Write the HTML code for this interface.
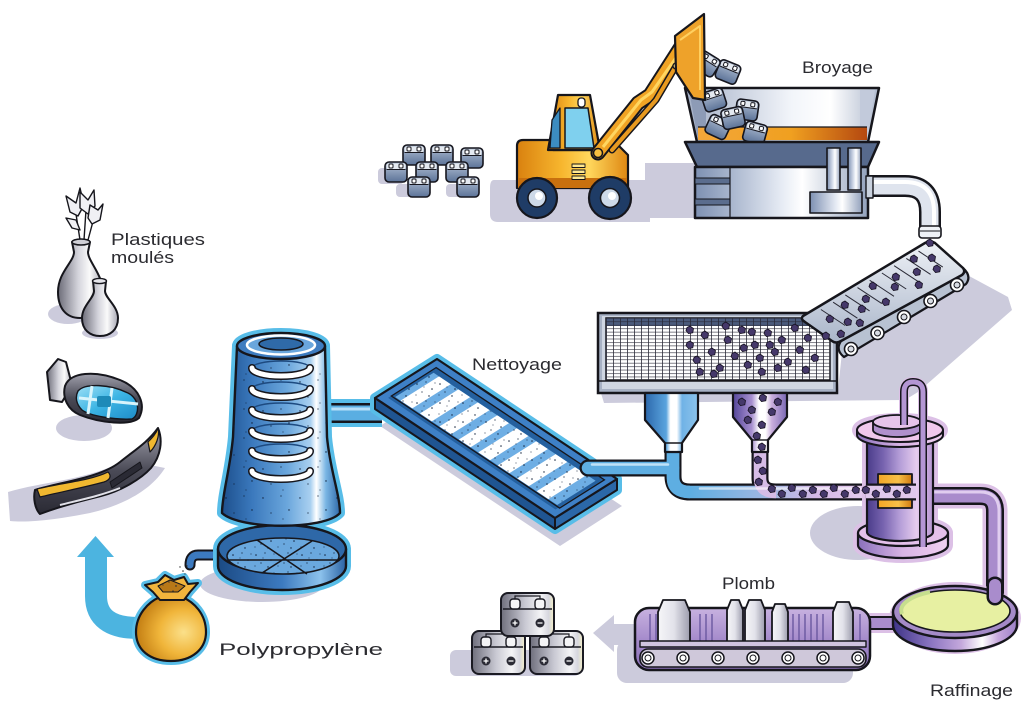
<!DOCTYPE html>
<html><head><meta charset="utf-8"><title>Recyclage</title>
<style>
html,body{margin:0;padding:0;background:#fff;width:1024px;height:709px;overflow:hidden}
svg{display:block}
.lbl{font-family:"Liberation Sans",sans-serif;font-size:17px;fill:#2b2b30}
</style></head><body>
<svg xmlns="http://www.w3.org/2000/svg" xmlns:xlink="http://www.w3.org/1999/xlink" width="1024" height="709" viewBox="0 0 1024 709">
<defs>
<linearGradient id="gY" x1="0" y1="0" x2="1" y2="0"><stop offset="0" stop-color="#d9810f"/><stop offset=".4" stop-color="#f7b62e"/><stop offset=".65" stop-color="#ffd75c"/><stop offset="1" stop-color="#de8712"/></linearGradient>
<linearGradient id="gHop" x1="0" y1="0" x2="1" y2="0"><stop offset="0" stop-color="#a3afc6"/><stop offset=".55" stop-color="#f2f5fa"/><stop offset=".75" stop-color="#ffffff"/><stop offset="1" stop-color="#aeb9cd"/></linearGradient>
<linearGradient id="gSteel" x1="0" y1="0" x2="1" y2="0"><stop offset="0" stop-color="#7d90b2"/><stop offset=".5" stop-color="#e6ebf4"/><stop offset=".62" stop-color="#ffffff"/><stop offset="1" stop-color="#93a2bd"/></linearGradient>
<linearGradient id="gOr" x1="0" x2="1"><stop offset="0" stop-color="#f3a63a"/><stop offset=".55" stop-color="#f0a020"/><stop offset="1" stop-color="#b44810"/></linearGradient>
<linearGradient id="gBelt" x1="0" y1="0" x2="0" y2="1"><stop offset="0" stop-color="#eef1f6"/><stop offset="1" stop-color="#aab6ca"/></linearGradient>
<linearGradient id="gCyc" gradientUnits="userSpaceOnUse" x1="222" y1="0" x2="340" y2="0"><stop offset="0" stop-color="#1d4f8c"/><stop offset=".25" stop-color="#3a78bc"/><stop offset=".55" stop-color="#6aa6dc"/><stop offset=".75" stop-color="#a9d0f0"/><stop offset=".8" stop-color="#ffffff"/><stop offset=".88" stop-color="#7ab6e4"/><stop offset="1" stop-color="#2e68aa"/></linearGradient>
<linearGradient id="gBase" x1="0" x2="1"><stop offset="0" stop-color="#1b4a84"/><stop offset=".5" stop-color="#3c7ac0"/><stop offset=".8" stop-color="#8cc2ec"/><stop offset="1" stop-color="#2a62a4"/></linearGradient>
<linearGradient id="gBHop" x1="0" x2="1"><stop offset="0" stop-color="#2c68ac"/><stop offset=".4" stop-color="#5aa4de"/><stop offset=".48" stop-color="#ffffff"/><stop offset=".6" stop-color="#ffffff"/><stop offset=".7" stop-color="#70b2e6"/><stop offset="1" stop-color="#8cc4ec"/></linearGradient>
<linearGradient id="gPHop" x1="0" x2="1"><stop offset="0" stop-color="#54469a"/><stop offset=".35" stop-color="#a890d0"/><stop offset=".48" stop-color="#ffffff"/><stop offset=".6" stop-color="#ffffff"/><stop offset=".72" stop-color="#c9aedd"/><stop offset="1" stop-color="#7a68b4"/></linearGradient>
<linearGradient id="gPipe" gradientUnits="userSpaceOnUse" x1="690" y1="0" x2="870" y2="0"><stop offset="0" stop-color="#5eaee2"/><stop offset=".45" stop-color="#a4b8e2"/><stop offset=".7" stop-color="#d4b8e6"/><stop offset="1" stop-color="#e6cdee"/></linearGradient>
<linearGradient id="gPur" x1="0" x2="1"><stop offset="0" stop-color="#4a3c8a"/><stop offset=".25" stop-color="#7864b0"/><stop offset=".5" stop-color="#b59ed8"/><stop offset=".75" stop-color="#e6ccee"/><stop offset="1" stop-color="#b594d0"/></linearGradient>
<linearGradient id="gPlate" x1="0" x2="1"><stop offset="0" stop-color="#8a70bc"/><stop offset=".5" stop-color="#d8b4e4"/><stop offset="1" stop-color="#f0d0f0"/></linearGradient>
<linearGradient id="gDish" x1="0" x2="1"><stop offset="0" stop-color="#3e3488"/><stop offset=".3" stop-color="#8a74c0"/><stop offset=".55" stop-color="#c4a8dc"/><stop offset=".72" stop-color="#ffffff"/><stop offset=".85" stop-color="#c6a6dc"/><stop offset="1" stop-color="#9c80c8"/></linearGradient>
<linearGradient id="gPlomb" x1="0" y1="0" x2="0" y2="1"><stop offset="0" stop-color="#c8b2e0"/><stop offset=".5" stop-color="#a68ccc"/><stop offset="1" stop-color="#8a70b8"/></linearGradient>
<linearGradient id="gIngot" x1="0" x2="1"><stop offset="0" stop-color="#f6f6f8"/><stop offset=".5" stop-color="#e2e2ea"/><stop offset="1" stop-color="#9c9cac"/></linearGradient>
<linearGradient id="gBat" x1="0" x2="1"><stop offset="0" stop-color="#6e6e7c"/><stop offset=".45" stop-color="#c8c8d2"/><stop offset=".75" stop-color="#f4f4f6"/><stop offset=".9" stop-color="#d6d6de"/><stop offset="1" stop-color="#f4f0c8"/></linearGradient>
<linearGradient id="gSB" x1="0" y1="0" x2="0" y2="1"><stop offset="0" stop-color="#b6c3d6"/><stop offset="1" stop-color="#5c7398"/></linearGradient>
<radialGradient id="gBag" cx=".68" cy=".55" r=".7"><stop offset="0" stop-color="#fbe08a"/><stop offset=".5" stop-color="#f0b53a"/><stop offset="1" stop-color="#c07a10"/></radialGradient>
<linearGradient id="gGray" x1="0" x2="1"><stop offset="0" stop-color="#6c6c78"/><stop offset=".45" stop-color="#d4d4dc"/><stop offset=".7" stop-color="#fafafa"/><stop offset="1" stop-color="#a8a8b4"/></linearGradient>
<linearGradient id="gDark" x1="0" y1="0" x2="0" y2="1"><stop offset="0" stop-color="#a0a0ac"/><stop offset=".5" stop-color="#4a4a56"/><stop offset="1" stop-color="#2a2a34"/></linearGradient>
<linearGradient id="gGlass" x1="0" y1="0" x2="1" y2="1"><stop offset="0" stop-color="#9fe0f6"/><stop offset=".5" stop-color="#3cb4e4"/><stop offset="1" stop-color="#1e8cc8"/></linearGradient>
<linearGradient id="gWin" x1="0" x2="1"><stop offset="0" stop-color="#f2a626"/><stop offset=".6" stop-color="#f8c048"/><stop offset="1" stop-color="#d07a10"/></linearGradient>
<pattern id="grid" patternUnits="userSpaceOnUse" x="606" y="318" width="7" height="3.45">
<line x1="0.4" y1="0" x2="0.4" y2="3.45" stroke="#2a2a38" stroke-width=".8"/>
<line x1="0" y1="0.3" x2="7" y2="0.3" stroke="#2a2a38" stroke-width=".6"/>
</pattern>
<pattern id="dots" patternUnits="userSpaceOnUse" width="23" height="19">
<circle cx="3" cy="4" r=".75" fill="#0d1d36"/><circle cx="12" cy="2" r=".6" fill="#0d1d36"/><circle cx="18" cy="9" r=".75" fill="#0d1d36"/><circle cx="8" cy="12" r=".6" fill="#0d1d36"/><circle cx="15" cy="16" r=".7" fill="#0d1d36"/><circle cx="2" cy="15" r=".55" fill="#0d1d36"/><circle cx="21" cy="3" r=".55" fill="#0d1d36"/><circle cx="10" cy="7" r=".5" fill="#0d1d36"/>
</pattern>
<pattern id="dots2" patternUnits="userSpaceOnUse" width="37" height="29">
<circle cx="4" cy="5" r=".7" fill="#0d1d36"/><circle cx="22" cy="3" r=".6" fill="#0d1d36"/><circle cx="30" cy="17" r=".7" fill="#0d1d36"/><circle cx="12" cy="20" r=".6" fill="#0d1d36"/><circle cx="24" cy="26" r=".55" fill="#0d1d36"/>
</pattern>
<polygon id="bt" points="-3,-2.5 0,-4 3.5,-1.5 2.8,2.8 -1.5,3.6 -4,0.6" fill="#45386a" stroke="#15101f" stroke-width=".8"/>
<g id="sb">
<rect x="-11" y="-10" width="22" height="20" rx="4" fill="url(#gSB)" stroke="#16161e" stroke-width="1.6"/>
<rect x="-9.5" y="-8.5" width="19" height="6" rx="2" fill="#e4e9f0"/>
<rect x="-7" y="-8" width="4" height="4" rx="1" fill="#fff" stroke="#16161e" stroke-width="1"/>
<rect x="3" y="-8" width="4" height="4" rx="1" fill="#fff" stroke="#16161e" stroke-width="1"/>
<line x1="-9.5" y1="-2.5" x2="9.5" y2="-2.5" stroke="#16161e" stroke-width="1"/>
</g>
<g id="bb">
<rect x="0" y="0" width="53" height="43" rx="7" fill="url(#gBat)" stroke="#1a1a22" stroke-width="2"/>
<path d="M2,16 L51,16" stroke="#1a1a22" stroke-width="1.5"/>
<path d="M14,8 L14,3 L39,3 L39,8" fill="none" stroke="#1a1a22" stroke-width="1.2"/>
<rect x="9" y="6" width="10" height="10" rx="3" fill="#f4f4f6" stroke="#1a1a22" stroke-width="1.4"/>
<rect x="34" y="6" width="10" height="10" rx="3" fill="#f4f4f6" stroke="#1a1a22" stroke-width="1.4"/>
<circle cx="14" cy="30" r="4.5" fill="#2a2a34"/><circle cx="39" cy="30" r="4.5" fill="#2a2a34"/>
<path d="M11.5,30 h5 M14,27.5 v5 M36.5,30 h5" stroke="#fff" stroke-width="1.3"/>
</g>
</defs>

<!-- ============ SHADOWS ============ -->
<g fill="#cccbdc">
<rect x="378" y="168" width="26" height="16" rx="4"/>
<rect x="396" y="184" width="24" height="13" rx="4"/>
<rect x="446" y="184" width="22" height="13" rx="4"/>
<path d="M494,180 L645,180 L645,163 L702,163 L702,218 L650,218 L650,222 L498,222 Q490,222 490,214 L490,188 Q490,180 494,180Z"/>
<polygon points="958,270 1008,297 1012,310 918,392 905,400 604,403 600,390 838,390 842,352"/>
<polygon points="442,386 622,506 560,546 380,426"/>
<ellipse cx="262" cy="584" rx="62" ry="18"/>
<ellipse cx="858" cy="533" rx="48" ry="27"/>
<rect x="617" y="640" width="236" height="43" rx="10"/>
<polygon points="593,633 614,615 614,624 640,624 640,645 614,645 614,652"/>
<rect x="450" y="650" width="130" height="26" rx="6"/>
<ellipse cx="68" cy="314" rx="20" ry="10"/>
<ellipse cx="100" cy="333" rx="18" ry="6"/>
<ellipse cx="84" cy="428" rx="28" ry="13"/>
<path d="M8,492 C40,482 90,480 125,460 L165,468 C150,492 120,506 90,513 C60,519 30,523 10,521 Z"/>
</g>

<!-- ============ LEFT BATTERY PILE ============ -->
<use xlink:href="#sb" href="#sb" transform="translate(414,155)"/>
<use xlink:href="#sb" href="#sb" transform="translate(442,155)"/>
<use xlink:href="#sb" href="#sb" transform="translate(472,158)"/>
<use xlink:href="#sb" href="#sb" transform="translate(396,172)"/>
<use xlink:href="#sb" href="#sb" transform="translate(427,172)"/>
<use xlink:href="#sb" href="#sb" transform="translate(457,172)"/>
<use xlink:href="#sb" href="#sb" transform="translate(419,187)"/>
<use xlink:href="#sb" href="#sb" transform="translate(468,187)"/>

<!-- ============ CRUSHER ============ -->
<g stroke="#16161c" stroke-linejoin="round">
<path d="M868,186 L905,186 Q930,186 930,212 L930,236" fill="none" stroke-width="22"/>
<path d="M868,186 L905,186 Q930,186 930,212 L930,236" fill="none" stroke="#dfe4ee" stroke-width="17"/>
<path d="M868,182 L905,182 Q934,182 934,212 L934,234" fill="none" stroke="#ffffff" stroke-width="4"/>
<rect x="919" y="226" width="22" height="12" rx="3" fill="#eef1f6" stroke-width="1.6"/>
<line x1="920" y1="231" x2="940" y2="231" stroke-width="1"/>
<polygon points="685,88 879,88 868,142 697,142" fill="url(#gHop)" stroke-width="2.5"/>
<polygon points="689,90 706,90 706,126 698,140" fill="#8d9bb6" stroke="none"/>
<polygon points="875,90 860,90 860,126 867,140" fill="#c2cadb" stroke="none"/>
<rect x="698" y="127" width="169" height="13" fill="url(#gOr)" stroke="none"/>
<line x1="698" y1="127" x2="867" y2="127" stroke-width="1.2"/>
</g>
<use xlink:href="#sb" href="#sb" transform="translate(755,133) rotate(15)"/>
<use xlink:href="#sb" href="#sb" transform="translate(718,127) rotate(25)"/>
<use xlink:href="#sb" href="#sb" transform="translate(747,110) rotate(8)"/>
<use xlink:href="#sb" href="#sb" transform="translate(733,118) rotate(-12)"/>
<use xlink:href="#sb" href="#sb" transform="translate(714,100) rotate(-18)"/>
<use xlink:href="#sb" href="#sb" transform="translate(728,72) rotate(22)"/>
<use xlink:href="#sb" href="#sb" transform="translate(707,64) rotate(32)"/>
<g stroke="#16161c" stroke-linejoin="round">
<polygon points="685,142 879,142 868,167 697,167" fill="#576a8d" stroke-width="2.5"/>
<rect x="695" y="167" width="173" height="51" fill="url(#gSteel)" stroke-width="2.5"/>
<rect x="695" y="178" width="35" height="6" fill="#5b6d8e" stroke-width="1"/>
<rect x="695" y="199" width="35" height="6" fill="#5b6d8e" stroke-width="1"/>
<line x1="730" y1="167" x2="730" y2="218" stroke-width="1.2"/>
<rect x="827" y="148" width="13" height="42" fill="url(#gSteel)" stroke-width="1.6"/>
<rect x="848" y="148" width="13" height="42" fill="url(#gSteel)" stroke-width="1.6"/>
<rect x="810" y="192" width="52" height="21" fill="url(#gSteel)" stroke-width="1.6"/>
<rect x="866" y="176" width="7" height="22" fill="#c9d1de" stroke-width="1.4"/>
</g>

<!-- ============ LOADER ============ -->
<g stroke="#16161c" stroke-linejoin="round">
<path d="M517,146 Q517,140 523,140 L553,140 L553,150 L600,150 L615,142 L628,155 L628,188 L517,188 Z" fill="url(#gY)" stroke-width="2.2"/>
<rect x="518" y="178" width="109" height="10" fill="#c8700e" stroke="none"/>
<path d="M558,95 L590,95 L600,150 L548,150 Z" fill="url(#gY)" stroke-width="2.2"/>
<path d="M565,108 L588,108 L594,148 L565,148 Z" fill="#7fd0ee" stroke-width="1.5"/>
<path d="M552,120 L560,108 L560,148 L550,148 Z" fill="#3c8cc0" stroke-width="1.3"/>
<rect x="578" y="98" width="7" height="9" rx="3" fill="#fff" stroke-width="1.3"/>
<rect x="572" y="164" width="13" height="3.5" fill="#ffe890" stroke-width=".9"/>
<rect x="572" y="170" width="13" height="3.5" fill="#ffe890" stroke-width=".9"/>
<rect x="572" y="176" width="13" height="3.5" fill="#ffe890" stroke-width=".9"/>
<path d="M598,153 L638,103 L650,95 L684,42" fill="none" stroke-width="15" stroke-linecap="round"/>
<path d="M598,153 L638,103 L650,95 L684,42" fill="none" stroke="#f0a324" stroke-width="11" stroke-linecap="round"/>
<path d="M603,147 L641,100 L652,92 L680,52" fill="none" stroke="#ffd660" stroke-width="3"/>
<path d="M612,150 L656,100 L676,66" fill="none" stroke-width="7" stroke-linecap="round"/>
<path d="M612,150 L656,100 L676,66" fill="none" stroke="#e89a20" stroke-width="4" stroke-linecap="round"/>
<circle cx="598" cy="153" r="4.5" fill="#f8c040" stroke-width="1.5"/>
<circle cx="683" cy="44" r="4" fill="#ffe080" stroke-width="1.5"/>
<circle cx="676" cy="66" r="3" fill="#ffe080" stroke-width="1.3"/>
<path d="M675,36 L704,14 L705,100 L693,98 L676,72 Z" fill="#eea22a" stroke-width="2.2"/>
<path d="M680,40 L700,26 L700,90" fill="none" stroke="#ffd060" stroke-width="2"/>
<circle cx="537" cy="198" r="20" fill="#1f3c66" stroke-width="2.2"/>
<circle cx="537" cy="198" r="9" fill="#cdd9e8" stroke-width="1.5"/>
<circle cx="539" cy="196" r="4" fill="#fff" stroke="none"/>
<circle cx="610" cy="198" r="21" fill="#1f3c66" stroke-width="2.2"/>
<circle cx="610" cy="198" r="9.5" fill="#cdd9e8" stroke-width="1.5"/>
<circle cx="612" cy="196" r="4" fill="#fff" stroke="none"/>
</g>

<!-- ============ SCREEN ============ -->
<g stroke="#16161c">
<rect x="598" y="313" width="239" height="80" fill="#a7b1c4" stroke-width="2.5"/>
<rect x="602" y="316" width="231" height="73" fill="#cfd6e2" stroke="none"/>
<rect x="606" y="318" width="224" height="62" fill="#fff" stroke-width="1.5"/>
<rect x="606" y="318" width="224" height="8" fill="#4b5b7c" stroke="none"/>
<rect x="606" y="318" width="224" height="62" fill="url(#grid)" stroke="none"/>
<line x1="599" y1="381" x2="836" y2="381" stroke-width="1.5"/>
</g>
<g>
<use href="#bt" xlink:href="#bt" x="690" y="345"/><use href="#bt" xlink:href="#bt" x="697" y="360"/><use href="#bt" xlink:href="#bt" x="705" y="335"/><use href="#bt" xlink:href="#bt" x="712" y="352"/><use href="#bt" xlink:href="#bt" x="720" y="368"/><use href="#bt" xlink:href="#bt" x="728" y="340"/><use href="#bt" xlink:href="#bt" x="735" y="356"/><use href="#bt" xlink:href="#bt" x="742" y="330"/><use href="#bt" xlink:href="#bt" x="748" y="365"/><use href="#bt" xlink:href="#bt" x="755" y="345"/><use href="#bt" xlink:href="#bt" x="762" y="372"/><use href="#bt" xlink:href="#bt" x="768" y="333"/><use href="#bt" xlink:href="#bt" x="775" y="352"/><use href="#bt" xlink:href="#bt" x="782" y="340"/><use href="#bt" xlink:href="#bt" x="788" y="362"/><use href="#bt" xlink:href="#bt" x="795" y="328"/><use href="#bt" xlink:href="#bt" x="800" y="350"/><use href="#bt" xlink:href="#bt" x="808" y="338"/><use href="#bt" xlink:href="#bt" x="815" y="358"/><use href="#bt" xlink:href="#bt" x="700" y="372"/><use href="#bt" xlink:href="#bt" x="726" y="326"/><use href="#bt" xlink:href="#bt" x="744" y="348"/><use href="#bt" xlink:href="#bt" x="760" y="358"/><use href="#bt" xlink:href="#bt" x="778" y="368"/><use href="#bt" xlink:href="#bt" x="690" y="330"/><use href="#bt" xlink:href="#bt" x="714" y="374"/><use href="#bt" xlink:href="#bt" x="752" y="332"/><use href="#bt" xlink:href="#bt" x="806" y="370"/><use href="#bt" xlink:href="#bt" x="770" y="345"/>
</g>

<!-- ============ SHRED CONVEYOR ============ -->
<g stroke="#16161c" stroke-linejoin="round">
<path d="M841,341 L963,268 Q972,276 966,284 L844,357 Q835,350 841,341 Z" fill="#b8c2d2" stroke-width="2.2"/>
<path d="M803,316 L925,243 Q930,240 935,243 L963,268 Q966,272 962,275 L841,341 Q836,344 832,341 L805,322 Q800,319 803,316 Z" fill="url(#gBelt)" stroke-width="2.5"/>
<path d="M820.9,309.5 L845.2,325.5 M833.1,302.2 L857.4,318.2 M845.3,294.9 L869.6,310.9 M857.5,287.6 L881.8,303.6 M869.7,280.3 L894,296.3 M881.9,273 L906.2,289 M894.1,265.7 L918.4,281.7 M906.3,258.4 L930.6,274.4 M918.5,251.1 L942.8,267.1" stroke="#2a2a36" stroke-width="1" fill="none"/>
<g fill="#fff" stroke-width="1.6">
<circle cx="851" cy="349" r="6.5"/><circle cx="877.5" cy="333" r="6.5"/><circle cx="904" cy="317" r="6.5"/><circle cx="930.5" cy="301" r="6.5"/><circle cx="957" cy="285" r="6.5"/>
</g>
<g fill="#d8dce4" stroke-width="1">
<circle cx="851" cy="349" r="3"/><circle cx="877.5" cy="333" r="3"/><circle cx="904" cy="317" r="3"/><circle cx="930.5" cy="301" r="3"/><circle cx="957" cy="285" r="3"/>
</g>
</g>
<g>
<use href="#bt" xlink:href="#bt" x="830" y="319"/><use href="#bt" xlink:href="#bt" x="848" y="322"/><use href="#bt" xlink:href="#bt" x="845" y="305"/><use href="#bt" xlink:href="#bt" x="862" y="309"/><use href="#bt" xlink:href="#bt" x="866" y="299"/><use href="#bt" xlink:href="#bt" x="886" y="302"/><use href="#bt" xlink:href="#bt" x="873" y="286"/><use href="#bt" xlink:href="#bt" x="895" y="287"/><use href="#bt" xlink:href="#bt" x="896" y="277"/><use href="#bt" xlink:href="#bt" x="919" y="285"/><use href="#bt" xlink:href="#bt" x="917" y="272"/><use href="#bt" xlink:href="#bt" x="914" y="259"/><use href="#bt" xlink:href="#bt" x="937" y="269"/><use href="#bt" xlink:href="#bt" x="932" y="258"/><use href="#bt" xlink:href="#bt" x="860" y="323"/><use href="#bt" xlink:href="#bt" x="841" y="334"/><use href="#bt" xlink:href="#bt" x="930" y="243"/><use href="#bt" xlink:href="#bt" x="826" y="336"/>
</g>

<!-- ============ TRAY (Nettoyage) ============ -->
<g stroke="#16161c" stroke-linejoin="round">
<path d="M322,413 L382,413" stroke="#58bde8" stroke-width="28" fill="none"/>
<path d="M322,413 L382,413" stroke-width="20" fill="none"/>
<path d="M322,413 L382,413" stroke="#5aaee2" stroke-width="15" fill="none"/>
<path d="M322,409 L382,409" stroke="#b8e0f8" stroke-width="3" fill="none"/>
<polygon points="437,359 617,479 617,490 555,529 375,409 375,398" fill="#58bde8" stroke="#58bde8" stroke-width="10"/>
<polygon points="375,398 555,518 555,529 375,409" fill="#1f5592" stroke-width="2"/>
<polygon points="555,518 617,479 617,490 555,529" fill="#2b68a8" stroke-width="2"/>
<polygon points="437,359 617,479 555,518 375,398" fill="#3e80c6" stroke-width="2.2"/>
</g>
<g transform="matrix(180,120,-62,39,437,359)" stroke="none">
<rect x=".035" y=".11" width=".93" height=".78" fill="#24609f"/>
<rect x=".05" y=".2" width=".9" height=".62" fill="#6eaee4"/>
<g fill="#fff">
<rect x=".08" y=".2" width=".065" height=".62"/><rect x=".188" y=".2" width=".065" height=".62"/><rect x=".296" y=".2" width=".065" height=".62"/><rect x=".404" y=".2" width=".065" height=".62"/><rect x=".512" y=".2" width=".065" height=".62"/><rect x=".62" y=".2" width=".065" height=".62"/><rect x=".728" y=".2" width=".065" height=".62"/><rect x=".836" y=".2" width=".065" height=".62"/>
</g>
</g>
<polygon points="436.1,367.6 604.4,479.8 559.6,508.1 391.4,396" fill="none" stroke="#16161c" stroke-width="1.3"/>
<polygon points="433.6,372.8 595.6,480.8 557.2,505 395.2,397" fill="url(#dots)" stroke="none"/>

<!-- ============ PIPES (blue -> purple) ============ -->
<g fill="none" stroke-linecap="round" stroke-linejoin="round">
<path d="M588,468 L673,468" stroke="#16161c" stroke-width="17"/>
<path d="M673,450 L673,476 Q673,492 690,492 L870,492" stroke="#16161c" stroke-width="17" stroke-linecap="butt"/>
<path d="M760,450 L760,478 Q760,492 776,492" stroke="#16161c" stroke-width="17" stroke-linecap="butt"/>
<path d="M588,468 L673,468" stroke="#5eaee2" stroke-width="12.5"/>
<path d="M673,450 L673,476 Q673,492 690,492 L870,492" stroke="url(#gPipe)" stroke-width="12.5" stroke-linecap="butt"/>
<path d="M673,450 L673,478 Q673,492 690,492" stroke="#5eaee2" stroke-width="12.5" stroke-linecap="butt"/>
<path d="M760,450 L760,478 Q760,492 776,492" stroke="#d6bce6" stroke-width="12.5" stroke-linecap="butt"/>
<path d="M592,464.5 L668,464.5" stroke="#bfe2f8" stroke-width="2.5"/>
<path d="M700,488.5 L860,488.5" stroke="#ffffff" stroke-opacity=".6" stroke-width="2.5"/>
</g>

<!-- ============ HOPPERS ============ -->
<g stroke="#16161c" stroke-width="2.2" stroke-linejoin="round">
<path d="M645,393 L698,393 L698,420 L682,443 L682,452 L665,452 L665,443 L645,420 Z" fill="url(#gBHop)"/>
<line x1="665" y1="443" x2="682" y2="443" stroke-width="1.4"/>
<path d="M733,393 L787,393 L787,417 L768,440 L768,452 L752,452 L752,440 L733,417 Z" fill="url(#gPHop)"/>
<line x1="752" y1="440" x2="768" y2="440" stroke-width="1.4"/>
</g>
<g>
<use href="#bt" xlink:href="#bt" x="742" y="402"/><use href="#bt" xlink:href="#bt" x="752" y="410"/><use href="#bt" xlink:href="#bt" x="763" y="398"/><use href="#bt" xlink:href="#bt" x="772" y="412"/><use href="#bt" xlink:href="#bt" x="748" y="420"/><use href="#bt" xlink:href="#bt" x="762" y="425"/><use href="#bt" xlink:href="#bt" x="778" y="402"/><use href="#bt" xlink:href="#bt" x="757" y="436"/><use href="#bt" xlink:href="#bt" x="762" y="447"/><use href="#bt" xlink:href="#bt" x="758" y="460"/><use href="#bt" xlink:href="#bt" x="763" y="471"/><use href="#bt" xlink:href="#bt" x="759" y="482"/>
<use href="#bt" xlink:href="#bt" x="772" y="489"/><use href="#bt" xlink:href="#bt" x="782" y="494"/><use href="#bt" xlink:href="#bt" x="792" y="488"/><use href="#bt" xlink:href="#bt" x="803" y="494"/><use href="#bt" xlink:href="#bt" x="813" y="490"/><use href="#bt" xlink:href="#bt" x="824" y="494"/><use href="#bt" xlink:href="#bt" x="834" y="488"/><use href="#bt" xlink:href="#bt" x="845" y="494"/><use href="#bt" xlink:href="#bt" x="856" y="490"/>
</g>

<!-- ============ CYCLONE ============ -->
<g stroke="#16161c" stroke-linejoin="round">
<path d="M218,555 L198,555 Q190,555 190,565" fill="none" stroke-width="11" stroke-linecap="round"/>
<path d="M218,555 L198,555 Q190,555 190,565" fill="none" stroke="#3c7ac0" stroke-width="7" stroke-linecap="round"/>
<g fill="#58bde8" stroke="#58bde8" stroke-width="10">
<path d="M218,549 L218,566 A64,24 0 0 0 346,566 L346,549 Z"/>
<ellipse cx="282" cy="549" rx="64" ry="24"/>
<path d="M237,346 L233,437 C230,470 222,495 222,513 C240,530 325,530 340,513 C340,495 330,470 327,437 L325,346 Z"/>
<ellipse cx="281" cy="346" rx="44" ry="13"/>
</g>
<path d="M218,549 L218,566 A64,24 0 0 0 346,566 L346,549 Z" fill="url(#gBase)" stroke-width="2.4"/>
<ellipse cx="282" cy="549" rx="64" ry="24" fill="#2e68a8" stroke-width="2.4"/>
<ellipse cx="283" cy="556" rx="56" ry="18" fill="#6aa8de" stroke-width="1.5"/>
<ellipse cx="283" cy="556" rx="56" ry="18" fill="url(#dots)" stroke="none"/>
<path d="M229,560 L337,560 M257,540 L307,574 M312,541 L262,573" stroke-width="1.6" fill="none"/>
<path d="M237,346 L233,437 C230,470 222,495 222,513 C240,530 325,530 340,513 C340,495 330,470 327,437 L325,346 Z" fill="url(#gCyc)" stroke-width="2.4"/>
<path d="M237,346 L233,437 C230,470 222,495 222,513 C240,530 325,530 340,513 C340,495 330,470 327,437 L325,346 Z" fill="url(#dots2)" stroke="none"/>
<g fill="none">
<path d="M252,368 A29,7 0 0 1 310,368 M252,389 A29,7 0 0 1 310,389 M252,410 A29,7 0 0 1 310,410 M252,431 A29,7 0 0 1 310,431 M252,451 A29,7 0 0 1 310,451" stroke="#1d4a80" stroke-width="1.5"/>
<path d="M252,368 A29,8 0 0 0 310,368 M252,389 A29,8 0 0 0 310,389 M252,410 A29,8 0 0 0 310,410 M252,431 A29,8 0 0 0 310,431 M252,451 A29,8 0 0 0 310,451 M252,471 A29,8 0 0 0 310,471" stroke-width="8" stroke-linecap="round"/>
<path d="M252,368 A29,8 0 0 0 310,368 M252,389 A29,8 0 0 0 310,389 M252,410 A29,8 0 0 0 310,410 M252,431 A29,8 0 0 0 310,431 M252,451 A29,8 0 0 0 310,451 M252,471 A29,8 0 0 0 310,471" stroke="#fff" stroke-width="5" stroke-linecap="round"/>
</g>
<ellipse cx="281" cy="346" rx="44" ry="13" fill="#3e7cc0" stroke-width="2.4"/>
<ellipse cx="281" cy="345" rx="34" ry="9.5" fill="#6aa6dc" stroke="#ffffff" stroke-width="2.5"/>
<ellipse cx="281" cy="344" rx="22" ry="6" fill="#2f6aa8" stroke-width="1.6"/>
</g>

<!-- ============ COLUMN (refinery) ============ -->
<g stroke="#16161c" stroke-linejoin="round">
<path d="M930,496 L980,496 Q995,496 995,511 L995,596" fill="none" stroke="#dcc0e6" stroke-width="25"/>
<g fill="#dcc0e6" stroke="#dcc0e6" stroke-width="10">
<path d="M858,533 L858,545 A45,13 0 0 0 948,545 L948,533 Z"/>
<ellipse cx="903" cy="533" rx="45" ry="13"/>
<rect x="867" y="425" width="66" height="110"/>
<ellipse cx="900" cy="430" rx="43" ry="12"/>
<path d="M904,425 L904,392 Q904,382 913,382 Q923,382 923,392 L923,547" fill="none"/>
</g>
<path d="M930,496 L980,496 Q995,496 995,511 L995,596" fill="none" stroke-width="18"/>
<path d="M930,496 L980,496 Q995,496 995,511 L995,596" fill="none" stroke="#a98ccc" stroke-width="13"/>
<path d="M930,492 L980,492 Q999,492 999,511 L999,590" fill="none" stroke="#e0cdef" stroke-width="3"/>
<path d="M858,533 L858,545 A45,13 0 0 0 948,545 L948,533 Z" fill="url(#gPlate)" stroke-width="2.2"/>
<ellipse cx="903" cy="533" rx="45" ry="13" fill="#e4c0ea" stroke-width="2.2"/>
<path d="M867,438 L867,532 A33,9 0 0 0 933,532 L933,438 Z" fill="url(#gPur)" stroke-width="2.2"/>
<rect x="878" y="474" width="34" height="34" fill="url(#gWin)" stroke-width="1.8"/>
<path d="M866,492 L916,492" stroke-width="17" fill="none"/>
<path d="M866,492 L916,492" stroke="#e0c8ec" stroke-width="12.5" fill="none"/>
<path d="M857,430 L857,435 A43,12 0 0 0 943,435 L943,430 Z" fill="url(#gPlate)" stroke-width="2"/>
<ellipse cx="900" cy="430" rx="43" ry="12" fill="#f0c8ec" stroke-width="2"/>
<path d="M873,422 L873,430 A24,7 0 0 0 921,430 L921,422 Z" fill="#b090cc" stroke-width="1.8"/>
<ellipse cx="897" cy="422" rx="24" ry="7" fill="#e6c4ea" stroke-width="1.8"/>
<path d="M904,425 L904,392 Q904,382 913,382 Q923,382 923,392 L923,547" fill="none" stroke-width="8"/>
<path d="M904,425 L904,392 Q904,382 913,382 Q923,382 923,392 L923,547" fill="none" stroke="#b496d4" stroke-width="5"/>
</g>
<g>
<use href="#bt" xlink:href="#bt" x="866" y="490"/><use href="#bt" xlink:href="#bt" x="876" y="494"/><use href="#bt" xlink:href="#bt" x="887" y="489"/><use href="#bt" xlink:href="#bt" x="897" y="494"/><use href="#bt" xlink:href="#bt" x="907" y="490"/>
</g>

<!-- ============ DISH (Raffinage) ============ -->
<g stroke="#16161c" stroke-linejoin="round">
<path d="M866,623 L895,623" stroke="#dcc0e6" stroke-width="20" fill="none"/>
<ellipse cx="955" cy="618" rx="66" ry="36" fill="#dcc0e6" stroke="none"/>
<path d="M866,623 L895,623" stroke-width="14" fill="none"/>
<path d="M866,623 L895,623" stroke="#a98ccc" stroke-width="10" fill="none"/>
<path d="M893,612 L893,625 A62,26 0 0 0 1017,625 L1017,612 Z" fill="url(#gDish)" stroke-width="2.4"/>
<ellipse cx="955" cy="612" rx="62" ry="26" fill="#a48ac8" stroke-width="2.4"/>
<ellipse cx="955" cy="611" rx="55" ry="21" fill="#e7f0a2" stroke-width="1.6"/>
<path d="M902,614 A55,21 0 0 1 930,592" fill="none" stroke="#c6de8e" stroke-width="4"/>
<path d="M995,585 L995,597" stroke-width="17" stroke-linecap="round" fill="none"/>
<path d="M995,585 L995,597" stroke="#a98ccc" stroke-width="12" stroke-linecap="round" fill="none"/>
</g>

<!-- ============ PLOMB CONVEYOR ============ -->
<g stroke="#16161c" stroke-linejoin="round">
<rect x="635" y="608" width="235" height="62" rx="14" fill="url(#gPlomb)" stroke-width="2.5"/>
<g stroke="#6a58a0" stroke-width="1.4">
<path d="M650,614 V642 M656,614 V642 M700,614 V642 M706,614 V642 M712,614 V642 M793,614 V642 M799,614 V642 M805,614 V642 M811,614 V642 M817,614 V642 M823,614 V642 M860,614 V642"/>
</g>
<g fill="url(#gIngot)" stroke-width="1.8">
<path d="M658,643 L658,612 L663,600 L685,600 L690,612 L690,643 Z"/>
<path d="M727,643 L727,610 L731,600 L739,600 L743,610 L743,643 Z"/>
<path d="M745,643 L745,610 L749,600 L761,600 L765,610 L765,643 Z"/>
<path d="M772,643 L772,612 L775,604 L785,604 L788,612 L788,643 Z"/>
<path d="M833,643 L833,612 L837,602 L849,602 L853,612 L853,643 Z"/>
</g>
<rect x="640" y="641" width="226" height="6" fill="#d0c4e0" stroke-width="1.4"/>
<rect x="640" y="649" width="226" height="18" rx="8" fill="#cfc8da" stroke-width="1.6"/>
<g fill="#fff" stroke-width="1.5">
<circle cx="648" cy="658" r="6"/><circle cx="683" cy="658" r="6"/><circle cx="718" cy="658" r="6"/><circle cx="753" cy="658" r="6"/><circle cx="788" cy="658" r="6"/><circle cx="823" cy="658" r="6"/><circle cx="858" cy="658" r="6"/>
</g>
<g fill="none" stroke-width="1">
<circle cx="648" cy="658" r="3"/><circle cx="683" cy="658" r="3"/><circle cx="718" cy="658" r="3"/><circle cx="753" cy="658" r="3"/><circle cx="788" cy="658" r="3"/><circle cx="823" cy="658" r="3"/><circle cx="858" cy="658" r="3"/>
</g>
</g>

<!-- ============ BATTERY PYRAMID ============ -->
<use href="#bb" xlink:href="#bb" x="472" y="631"/>
<use href="#bb" xlink:href="#bb" x="530" y="631"/>
<use href="#bb" xlink:href="#bb" x="501" y="593"/>

<!-- ============ BAG + ARROW ============ -->
<g stroke-linejoin="round">
<path d="M96,556 L96,596 Q96,628 138,628" fill="none" stroke="#4cb4e0" stroke-width="22"/>
<polygon points="77,557 114,557 95.5,536" fill="#4cb4e0"/>
<g fill="#58bde8" stroke="#58bde8" stroke-width="8">
<path d="M160,597 C148,602 136,615 136,632 C136,650 150,661 171,661 C192,661 206,649 206,632 C206,614 194,602 182,597 Z"/>
<polygon points="145,585 158,582 165,575 174,580 184,577 188,584 198,583 190,592 184,600 160,600 153,592"/>
</g>
<path d="M160,597 C148,602 136,615 136,632 C136,650 150,661 171,661 C192,661 206,649 206,632 C206,614 194,602 182,597 Z" fill="url(#gBag)" stroke="#16161c" stroke-width="2.2"/>
<polygon points="145,585 158,582 165,575 174,580 184,577 188,584 198,583 190,592 184,600 160,600 153,592" fill="#f2b43c" stroke="#16161c" stroke-width="2"/>
<polygon points="158,586 170,580 185,586 178,592 163,592" fill="#b87818" stroke="#16161c" stroke-width="1"/>
<polygon points="158,586 170,580 185,586 178,592 163,592" fill="url(#dots)"/>
<g fill="#333"><circle cx="183" cy="571" r=".8"/><circle cx="187" cy="566" r=".7"/><circle cx="180" cy="567" r=".7"/><circle cx="185" cy="574" r=".6"/></g>
</g>

<!-- ============ LEFT PRODUCTS ============ -->
<g stroke="#16161c" stroke-linejoin="round">
<g fill="#f0f0f4" stroke-width="1.4">
<path d="M80,240 L76,214 M84,240 L86,210 M88,240 L95,214" fill="none"/>
<path d="M70,212 L66,196 L76,203 L80,188 L84,205 L78,216 Z"/>
<path d="M80,208 L80,192 L88,200 L94,190 L95,206 L88,214 Z"/>
<path d="M88,218 L90,205 L98,210 L103,204 L100,220 L92,224 Z"/>
<path d="M72,228 L66,218 L76,220 L80,230 Z"/>
</g>
<path d="M72,242 L90,242 L88,252 C88,262 104,275 103,295 C102,312 92,318 80,318 C66,318 58,308 58,292 C58,272 74,262 74,252 Z" fill="url(#gGray)" stroke-width="2"/>
<ellipse cx="81" cy="242" rx="9" ry="3" fill="#cfcfd6" stroke-width="1.5"/>
<path d="M93,281 L106,281 L105,291 C105,298 118,306 118,318 C118,330 110,336 100,336 C90,336 82,330 82,318 C82,306 94,298 94,291 Z" fill="url(#gGray)" stroke-width="2"/>
<ellipse cx="99.5" cy="281" rx="7" ry="2.6" fill="#e4e4ea" stroke-width="1.4"/>
<path d="M47,372 L58,359 L66,362 L72,385 L62,402 L50,400 Z" fill="url(#gGray)" stroke-width="2"/>
<path d="M65,386 C70,372 95,370 120,380 C140,388 146,405 139,418 C130,426 100,423 80,415 C68,410 62,398 65,386 Z" fill="url(#gDark)" stroke-width="2"/>
<path d="M78,391 C85,383 110,384 128,393 C140,399 140,415 132,419 C115,420 90,416 82,410 C76,404 75,397 78,391 Z" fill="url(#gGlass)" stroke-width="1.4"/>
<path d="M92,386 L88,414 M112,388 L108,418 M79,398 L138,404" stroke="#d8f4fc" stroke-width="3" fill="none"/>
<rect x="97" y="396" width="14" height="11" rx="2" fill="#1e8ab8" stroke="none"/>
<path d="M35,490 C60,482 100,478 120,462 C135,450 148,442 158,428 C163,440 161,456 151,468 C141,479 121,491 101,496 C81,501 61,506 40,514 C35,509 33,498 35,490 Z" fill="url(#gDark)" stroke-width="2"/>
<path d="M37,489 C60,483 90,481 108,472 C112,476 110,480 104,482 C82,488 60,492 40,497 Z" fill="#f0b830" stroke-width="1.2"/>
<path d="M148,442 C152,438 156,434 158,428 C160,436 156,446 150,452 Z" fill="#f0b830" stroke-width="1.2"/>
<path d="M110,482 L140,462 L142,468 L112,488 Z" fill="#2a2a34" stroke-width="1"/>
<path d="M60,505 C80,500 100,496 120,488" fill="none" stroke="#e0e0e8" stroke-width="2"/>
</g>

<!-- ============ LABELS ============ -->
<text class="lbl" x="802" y="73" textLength="71" lengthAdjust="spacingAndGlyphs">Broyage</text>
<text class="lbl" x="472" y="370" textLength="90" lengthAdjust="spacingAndGlyphs">Nettoyage</text>
<text class="lbl" x="722" y="589" textLength="53" lengthAdjust="spacingAndGlyphs">Plomb</text>
<text class="lbl" x="930" y="696" textLength="83" lengthAdjust="spacingAndGlyphs">Raffinage</text>
<text class="lbl" x="219" y="655" textLength="164" lengthAdjust="spacingAndGlyphs">Polypropylène</text>
<text class="lbl" x="111" y="245" textLength="94" lengthAdjust="spacingAndGlyphs">Plastiques</text>
<text class="lbl" x="111" y="263" textLength="63" lengthAdjust="spacingAndGlyphs">moulés</text>
</svg>
</body></html>
